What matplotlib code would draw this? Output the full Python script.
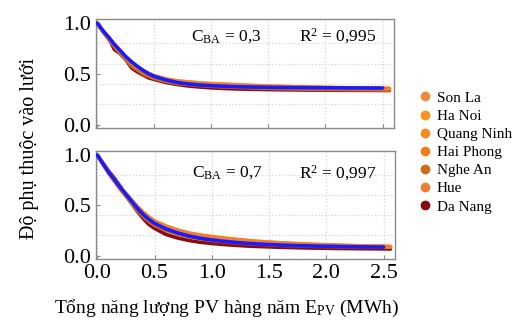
import matplotlib
matplotlib.use("Agg")
import matplotlib.pyplot as plt
from matplotlib.lines import Line2D
from matplotlib.ticker import MultipleLocator

plt.rcParams['font.family'] = ['Liberation Serif', 'DejaVu Serif']
plt.rcParams['mathtext.fontset'] = 'custom'
plt.rcParams['mathtext.rm'] = 'Liberation Serif'
plt.rcParams['mathtext.it'] = 'Liberation Serif:italic'

cities = ["Son La", "Ha Noi", "Quang Ninh", "Hai Phong", "Nghe An", "Hue", "Da Nang"]
city_colors = ["#f08a3a", "#f7941d", "#f6891f", "#f07d1e", "#cc6e14", "#ee7d35", "#8b0a0a"]

# annual PV energy (MWh)
x_fit = [0.0, 0.05, 0.1, 0.15, 0.2, 0.25, 0.3, 0.35, 0.4, 0.45, 0.5,
         0.6, 0.7, 0.8, 0.9, 1.0, 1.1, 1.2, 1.3, 1.4, 1.5, 1.6, 1.7, 1.8,
         1.9, 2.0, 2.1, 2.2, 2.3, 2.4, 2.5]
x_city = x_fit + [2.56]

# C_BA = 0.3
fit_03 = [1.00, 0.925, 0.86, 0.79, 0.73, 0.67, 0.62, 0.575, 0.535, 0.50, 0.475,
          0.44, 0.415, 0.40, 0.39, 0.383, 0.378, 0.374, 0.371, 0.369, 0.367, 0.366, 0.365,
          0.364, 0.363, 0.362, 0.362, 0.361, 0.361, 0.360, 0.360]
city_03 = {
    "Son La": [1.00, 0.925, 0.86, 0.79, 0.73, 0.67, 0.615, 0.57, 0.535, 0.505, 0.48,
               0.45, 0.43, 0.42, 0.41, 0.40, 0.395, 0.39, 0.385, 0.38, 0.378, 0.375, 0.372,
               0.37, 0.368, 0.366, 0.364, 0.362, 0.36, 0.358, 0.356, 0.355],
    "Ha Noi": [1.00, 0.92, 0.85, 0.78, 0.72, 0.66, 0.605, 0.56, 0.52, 0.49, 0.47,
               0.44, 0.42, 0.41, 0.40, 0.395, 0.39, 0.385, 0.38, 0.377, 0.374, 0.372, 0.37,
               0.368, 0.366, 0.364, 0.362, 0.36, 0.358, 0.357, 0.355, 0.354],
    "Quang Ninh": [1.00, 0.925, 0.86, 0.79, 0.72, 0.665, 0.61, 0.57, 0.535, 0.505, 0.48,
                   0.45, 0.43, 0.42, 0.41, 0.405, 0.40, 0.395, 0.39, 0.385, 0.38, 0.377, 0.374,
                   0.371, 0.368, 0.366, 0.364, 0.362, 0.36, 0.358, 0.357, 0.356],
    "Hai Phong": [1.00, 0.92, 0.85, 0.78, 0.71, 0.655, 0.60, 0.555, 0.52, 0.49, 0.47,
                  0.44, 0.42, 0.405, 0.395, 0.39, 0.385, 0.38, 0.376, 0.373, 0.37, 0.368, 0.366,
                  0.364, 0.362, 0.36, 0.358, 0.357, 0.356, 0.355, 0.354, 0.353],
    "Nghe An": [1.00, 0.915, 0.84, 0.77, 0.70, 0.64, 0.58, 0.54, 0.50, 0.475, 0.455,
                0.425, 0.405, 0.395, 0.385, 0.378, 0.372, 0.368, 0.364, 0.36, 0.357, 0.354, 0.352,
                0.35, 0.348, 0.346, 0.345, 0.344, 0.343, 0.342, 0.341, 0.34],
    "Hue": [1.00, 0.92, 0.85, 0.785, 0.72, 0.665, 0.61, 0.565, 0.53, 0.50, 0.475,
            0.445, 0.425, 0.41, 0.40, 0.395, 0.39, 0.385, 0.38, 0.376, 0.373, 0.37, 0.367,
            0.365, 0.363, 0.361, 0.36, 0.358, 0.357, 0.356, 0.355, 0.354],
    "Da Nang": [1.00, 0.92, 0.85, 0.74, 0.70, 0.64, 0.56, 0.52, 0.49, 0.46, 0.445,
                0.415, 0.395, 0.38, 0.37, 0.362, 0.356, 0.352, 0.349, 0.347, 0.345, 0.343, 0.342,
                0.341, 0.340, 0.339, 0.338, 0.338, 0.337, 0.337, 0.336, 0.336],
}

# C_BA = 0.7
fit_07 = [1.00, 0.915, 0.83, 0.755, 0.68, 0.61, 0.54, 0.47, 0.41, 0.36, 0.32,
          0.265, 0.225, 0.195, 0.172, 0.155, 0.142, 0.131, 0.122, 0.115, 0.109, 0.104, 0.100,
          0.097, 0.094, 0.092, 0.09, 0.088, 0.086, 0.085, 0.084]
city_07 = {
    "Son La": [1.00, 0.915, 0.83, 0.755, 0.68, 0.615, 0.55, 0.485, 0.43, 0.38, 0.34,
               0.29, 0.25, 0.22, 0.20, 0.185, 0.17, 0.16, 0.15, 0.14, 0.132, 0.125, 0.12,
               0.115, 0.11, 0.106, 0.102, 0.099, 0.096, 0.093, 0.09, 0.088],
    "Ha Noi": [1.00, 0.91, 0.82, 0.745, 0.67, 0.605, 0.54, 0.475, 0.42, 0.37, 0.33,
               0.28, 0.245, 0.215, 0.195, 0.178, 0.164, 0.152, 0.142, 0.134, 0.127, 0.12, 0.115,
               0.11, 0.106, 0.102, 0.099, 0.096, 0.093, 0.091, 0.089, 0.087],
    "Quang Ninh": [1.00, 0.915, 0.83, 0.755, 0.68, 0.615, 0.55, 0.49, 0.43, 0.385, 0.345,
                   0.295, 0.255, 0.225, 0.205, 0.19, 0.175, 0.163, 0.152, 0.142, 0.134, 0.127, 0.121,
                   0.116, 0.111, 0.107, 0.103, 0.1, 0.097, 0.094, 0.091, 0.089],
    "Hai Phong": [1.00, 0.91, 0.82, 0.745, 0.67, 0.60, 0.53, 0.47, 0.41, 0.365, 0.325,
                  0.275, 0.24, 0.21, 0.19, 0.173, 0.16, 0.148, 0.138, 0.13, 0.123, 0.117, 0.112,
                  0.107, 0.103, 0.1, 0.097, 0.094, 0.092, 0.09, 0.088, 0.086],
    "Nghe An": [1.00, 0.91, 0.82, 0.74, 0.66, 0.59, 0.52, 0.45, 0.39, 0.34, 0.30,
                0.25, 0.215, 0.185, 0.165, 0.15, 0.138, 0.128, 0.12, 0.113, 0.107, 0.102, 0.098,
                0.095, 0.092, 0.09, 0.088, 0.087, 0.086, 0.085, 0.084, 0.083],
    "Hue": [1.00, 0.915, 0.83, 0.755, 0.68, 0.615, 0.55, 0.485, 0.43, 0.38, 0.34,
            0.285, 0.25, 0.22, 0.198, 0.18, 0.166, 0.154, 0.144, 0.135, 0.128, 0.122, 0.116,
            0.111, 0.107, 0.103, 0.1, 0.097, 0.094, 0.092, 0.09, 0.088],
    "Da Nang": [1.00, 0.92, 0.84, 0.77, 0.69, 0.60, 0.52, 0.44, 0.37, 0.31, 0.27,
                0.21, 0.175, 0.15, 0.132, 0.12, 0.11, 0.102, 0.095, 0.09, 0.086, 0.082, 0.079,
                0.076, 0.074, 0.072, 0.07, 0.069, 0.068, 0.067, 0.066, 0.065],
}

panels = [("0,3", "0,995", fit_03, city_03, 0.84), ("0,7", "0,997", fit_07, city_07, 0.80)]

fig = plt.figure(figsize=(5.17, 3.25), dpi=100)
ax_top = fig.add_axes([0.186, 0.606, 0.576, 0.335])
ax_bot = fig.add_axes([0.186, 0.203, 0.578, 0.332])

# Da Nang first so the orange cities sit over it
draw_order = [6, 0, 1, 2, 3, 4, 5]

for ax, (cba, r2, fit, data, ty) in zip([ax_top, ax_bot], panels):
    for i in draw_order:
        ax.plot(x_city, data[cities[i]], color=city_colors[i], lw=2.6,
                solid_capstyle="round", solid_joinstyle="round", zorder=2)
    ax.plot(x_fit, fit, color="#1a1aff", lw=2.6, solid_capstyle="round", zorder=3)

    ax.set_xlim(-0.01, 2.6)
    ax.set_ylim(-0.035, 1.04)
    ax.xaxis.set_major_locator(MultipleLocator(0.5))
    ax.yaxis.set_major_locator(MultipleLocator(0.5))
    ax.yaxis.set_minor_locator(MultipleLocator(0.2))
    ax.grid(True, which="major", axis="x", color="#d4d4d4", ls=":", lw=0.9)
    ax.grid(True, which="minor", axis="y", color="#d4d4d4", ls=":", lw=0.9)
    ax.tick_params(which="minor", length=0)
    ax.tick_params(which="major", direction="in", length=3, color="#888888", labelsize=16)
    for s in ax.spines.values():
        s.set_color("#8a8a8a")
        s.set_linewidth(1.0)
    ax.text(0.32, ty, r"C$_{\mathrm{BA}}$ = " + cba,
            transform=ax.transAxes, fontsize=12.5, va="center", ha="left")
    ax.text(0.68, ty, r"R$^2$ = " + r2,
            transform=ax.transAxes, fontsize=12.5, va="center", ha="left")

ax_top.tick_params(axis="x", labelbottom=False)

fig.text(0.058, 1 - 148 / 325, "Độ phụ thuộc vào lưới", rotation=90,
         ha="center", va="center", fontsize=14.5)
fig.text(0.439, 0.052, r"Tổng năng lượng PV hàng năm E$_{\mathrm{PV}}$ (MWh)",
         ha="center", va="center", fontsize=14)

handles = [Line2D([], [], ls="", marker="o", markersize=6, color=c) for c in city_colors]
fig.legend(handles, cities, loc="upper left", bbox_to_anchor=(0.78, 0.762),
           frameon=False, fontsize=11, handletextpad=0.3, labelspacing=0.29,
           handlelength=1.0)

fig.savefig("out.png", dpi=100)
